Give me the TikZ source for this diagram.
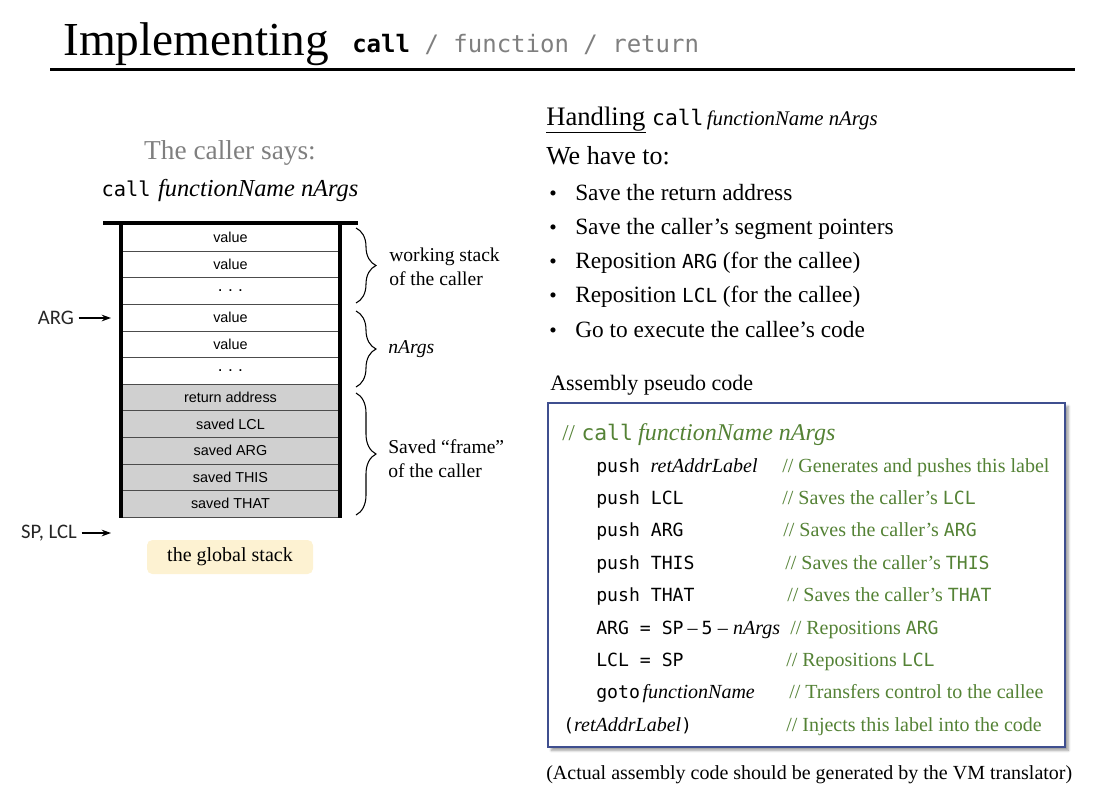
\documentclass[tikz,border=0pt]{standalone}
\usepackage{fontspec}
\setmainfont{Liberation Serif}
\setsansfont{Liberation Sans}
\setmonofont{DejaVu Sans Mono}
\newfontfamily\calib{Carlito}
\usetikzlibrary{decorations.pathreplacing,arrows.meta,shadows.blur}

\definecolor{codegreen}{HTML}{548235}
\definecolor{boxblue}{HTML}{3F4F8F}
\definecolor{cellgray}{HTML}{D0D0D0}
\definecolor{notefill}{HTML}{FDF2D2}
\definecolor{softgray}{HTML}{7F7F7F}

\newcommand\fsz[1]{\fontsize{#1}{1.2\dimexpr#1pt\relax}\selectfont}
\newcommand\stackdots{{\fsz{13}.\hspace{4pt}.\hspace{4pt}.}}

\begin{document}
\begin{tikzpicture}[x=0.75pt, y=-0.75pt,
  txt/.style={anchor=base west, inner sep=0pt},
  cell/.style={draw=black!70, line width=0.5pt, minimum width=164.25pt,
    minimum height=19.95pt, inner sep=0pt, font=\sffamily\fsz{10.8}},
  savedcell/.style={cell, fill=cellgray},
  ptr/.style={-{Stealth[length=7pt,width=5pt]}, line width=1pt},
  bracket/.style={decorate, decoration={brace, amplitude=15pt}, line width=0.8pt},
  bracelabel/.style={anchor=west, inner sep=0pt, align=left, font=\fontsize{14.7}{18}\selectfont},
  code/.style={txt, font=\ttfamily\fsz{13.6}},
  comment/.style={txt, text=codegreen, font=\fsz{15}},
  bullet/.style={txt, font=\fsz{17.5}},
  codebox/.style={draw=boxblue, line width=1.1pt, fill=white,
    minimum width=387.75pt, minimum height=258pt, inner sep=0pt,
    blur shadow={shadow xshift=2.5pt, shadow yshift=-2.5pt, shadow blur steps=6}}
]
\useasboundingbox (0,0) rectangle (1120,800);

% ---- heading ----
\node[txt, font=\fsz{35.5}] (title) at (63,55) {Implementing};
\node[txt, font=\ttfamily\fsz{18}] (titlemono) at (352,52)
  {{\bfseries call} {\color{softgray}/ function / return}};
\draw[line width=2pt] (50,69.5) -- (1075,69.5);

% ---- left: the global stack ----
\node[anchor=base, inner sep=0pt, text=softgray, font=\fsz{20.5}] (says) at (230,159) {The caller says:};
\node[anchor=base, inner sep=0pt] (callline) at (230,196)
  {{\ttfamily\fsz{15.3}call}\hspace{5.5pt}{\itshape\fsz{18.3}functionName nArgs}};

\foreach \lab [count=\i from 0] in {value,value,\stackdots,value,value,\stackdots}
  \node[cell] (c\i) at (230.5,{237.8+26.6*\i}) {\lab};
\foreach \lab [count=\i from 6] in {return address,saved LCL,saved ARG,saved THIS,saved THAT}
  \node[savedcell] (c\i) at (230.5,{237.8+26.6*\i}) {\lab};

\draw[line width=3pt] (103,223) -- (358,223);
\draw[line width=2.3pt] (121,223) -- (121,518);
\draw[line width=2.3pt] (340,223) -- (340,518);

\draw[bracket] (356,228) -- (356,303);
\draw[bracket] (356,311) -- (356,387);
\draw[bracket] (356,393) -- (356,515);
\node[bracelabel] (lab1) at (389,267) {working stack\\of the caller};
\node[bracelabel, font=\itshape\fsz{14.7}] (lab2) at (388,349) {nArgs};
\node[bracelabel] (lab3) at (388,459) {Saved “frame”\\of the caller};

\node[font=\calib\fsz{15.5}, text=black!85] (argl) at (56,318) {ARG};
\coordinate (argtip) at (111,318);
\draw[ptr] (argl) -- (argtip);
\node[font=\calib\fsz{15.5}, text=black!85] (spl) at (49,533) {SP, LCL};
\coordinate (sptip) at (111,533);
\draw[ptr] (spl) -- (sptip);

\node[fill=notefill, rounded corners=4pt, minimum width=124.5pt, minimum height=25.5pt,
  inner sep=0pt, font=\fsz{15}] (global) at (230,557) {the global stack};

% ---- right: what call must do ----
\node[txt] (handling) at (546,125)
  {{\fsz{20}\underline{Handling}}\hspace{5pt}{\ttfamily\fsz{16}call}\hspace{2.5pt}{\itshape\fsz{15.6}functionName nArgs}};
\node[txt, font=\fsz{19.5}] (have) at (546,164) {We have to:};

\foreach \t [count=\i from 0] in {Save the return address,
    Save the caller’s segment pointers,
    Reposition {\ttfamily\fsz{14.5}ARG} (for the callee),
    Reposition {\ttfamily\fsz{14.5}LCL} (for the callee),
    Go to execute the callee’s code} {
  \node[bullet, font=\fsz{16}] (dot\i) at (549,{200+34.3*\i}) {•};
  \node[bullet] (item\i) at (575,{200+34.3*\i}) {\t};
}

\node[txt, font=\fsz{16.5}] (asm) at (550,390) {Assembly pseudo code};
\node[codebox] (box) at (806.5,575) {};

\node[txt, text=codegreen] (head) at (562,440)
  {{\fsz{17}//}\hspace{5pt}{\ttfamily\fsz{16}call}\hspace{4pt}{\itshape\fsz{18}functionName nArgs}};

\node[code] (l1) at (596,472) {push\hspace{8pt}{\rmfamily\itshape\fsz{15}retAddrLabel}};
\node[code] (l2) at (596,504) {push LCL};
\node[code] (l3) at (596,536) {push ARG};
\node[code] (l4) at (596,569) {push THIS};
\node[code] (l5) at (596,601) {push THAT};
\node[code] (l6) at (596,634) {ARG = SP{\rmfamily\fsz{15}\hspace{3pt}–\hspace{3pt}}5{\rmfamily\fsz{15}\hspace{4pt}–\hspace{4pt}}{\rmfamily\itshape\fsz{15}nArgs}};
\node[code] (l7) at (596,666) {LCL = SP};
\node[code] (l8) at (596,698) {goto\hspace{2pt}{\rmfamily\itshape\fsz{15}functionName}};
\node[code] (l9) at (563,731) {({\rmfamily\itshape\fsz{15}retAddrLabel})};

\node[comment] (m1) at (782,472) {// Generates and pushes this label};
\node[comment] (m2) at (782,504) {// Saves the caller’s {\ttfamily\fsz{13.6}LCL}};
\node[comment] (m3) at (783,536) {// Saves the caller’s {\ttfamily\fsz{13.6}ARG}};
\node[comment] (m4) at (785,569) {// Saves the caller’s {\ttfamily\fsz{13.6}THIS}};
\node[comment] (m5) at (787,601) {// Saves the caller’s {\ttfamily\fsz{13.6}THAT}};
\node[comment] (m6) at (790,634) {// Repositions {\ttfamily\fsz{13.6}ARG}};
\node[comment] (m7) at (786,666) {// Repositions {\ttfamily\fsz{13.6}LCL}};
\node[comment] (m8) at (789,698) {// Transfers control to the callee};
\node[comment] (m9) at (786,731) {// Injects this label into the code};

\node[txt, font=\fsz{15}] (note) at (546,779)
  {(Actual assembly code should be generated by the VM translator)};
\end{tikzpicture}
\end{document}
